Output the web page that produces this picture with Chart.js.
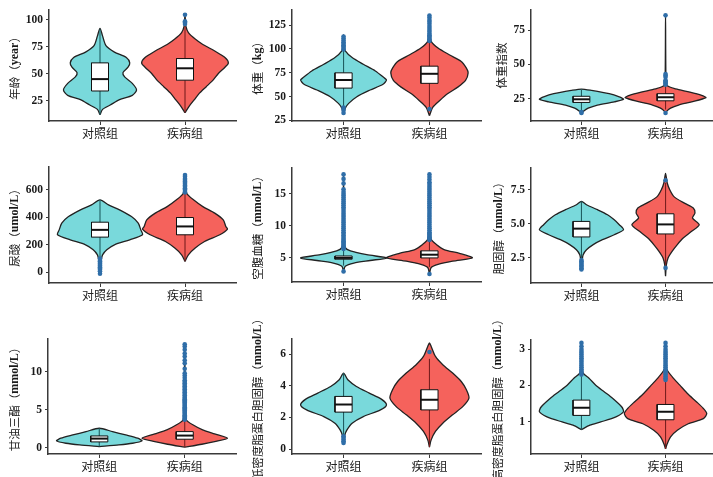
<!DOCTYPE html>
<html><head><meta charset="utf-8">
<script src="https://cdn.jsdelivr.net/npm/chart.js@4.4.1/dist/chart.umd.min.js"></script>
<style>
html,body{margin:0;padding:0;background:#fff;overflow:hidden;width:713px;height:477px;position:relative;}
canvas{position:absolute;}
</style></head><body>
<canvas id="c1"></canvas><canvas id="c2"></canvas><canvas id="c3"></canvas>
<canvas id="c4"></canvas><canvas id="c5"></canvas><canvas id="c6"></canvas>
<canvas id="c7"></canvas><canvas id="c8"></canvas><canvas id="c9"></canvas>
<script>
// ---------- DATA ----------
const categories = ['对照组', '疾病组'];
const titles = ['年龄（year）', '体重（kg）', '体重指数', '尿酸（umol/L）', '空腹血糖（mmol/L）',
  '胆固醇（mmol/L）', '甘油三酯（mmol/L）', '低密度脂蛋白胆固醇（mmol/L）', '高密度脂蛋白胆固醇（mmol/L）'];

// 1 年龄
const ageTicks = [25, 50, 75, 100];
const ageTickLabels = ['25', '50', '75', '100'];
const ageRange = [6.25, 109];
const ageCtrlY = [12, 17, 21, 26, 30, 35, 41, 47, 51, 56, 60, 65, 70, 76, 85, 92];
const ageCtrlW = [0, 0.03, 0.12, 0.23, 0.38, 0.43, 0.38, 0.29, 0.27, 0.33, 0.35, 0.31, 0.17, 0.07, 0.03, 0];
const ageCtrlBox = [12, 34, 45, 60, 91];
const ageCtrlOut = [];
const ageDisY = [14, 20, 26, 32, 38, 44, 50, 56, 60, 65, 71, 77, 82, 88, 94, 100, 105];
const ageDisW = [0, 0.05, 0.11, 0.17, 0.25, 0.33, 0.39, 0.47, 0.51, 0.47, 0.35, 0.21, 0.12, 0.04, 0.01, 0.004, 0];
const ageDisBox = [14, 44, 55, 64, 93];
const ageDisOut = [96, 97.3, 98.5, 104.5];

// 2 体重
const wtTicks = [25, 50, 75, 100, 125];
const wtTickLabels = ['25', '50', '75', '100', '125'];
const wtRange = [24.5, 141];
const wtCtrlY = [31, 38, 43, 50, 57, 63, 67.5, 70, 77, 84, 91, 98, 103, 115];
const wtCtrlW = [0, 0.02, 0.06, 0.155, 0.31, 0.46, 0.5, 0.47, 0.37, 0.23, 0.1, 0.02, 0.01, 0];
const wtCtrlBox = [40, 59, 67.5, 75, 98];
const wtCtrlOut = [99.5, 101, 102.5, 104, 105.5, 107, 109, 111, 113, 38.5, 36, 33];
const wtDisY = [30, 39, 46, 53, 60, 67, 75, 80, 87, 94, 101, 108, 115, 135];
const wtDisW = [0, 0.04, 0.12, 0.21, 0.33, 0.42, 0.45, 0.43, 0.37, 0.23, 0.1, 0.02, 0.01, 0];
const wtDisBox = [39, 64, 74, 82, 108];
const wtDisOut = [108.5, 110, 111.5, 113, 114.5, 116, 118, 120, 122, 124, 126.5, 128.5, 130.5, 133, 135, 37];

// 3 体重指数
const bmiTicks = [25, 50, 75];
const bmiTickLabels = ['25', '50', '75'];
const bmiRange = [8.6, 90];
const bmiCtrlY = [14, 15.5, 18, 20.3, 22.6, 24.5, 26.2, 28.6, 31, 32];
const bmiCtrlW = [0, 0.02, 0.08, 0.19, 0.39, 0.5, 0.45, 0.33, 0.12, 0];
const bmiCtrlBox = [16, 22.2, 24.5, 26.7, 32];
const bmiCtrlOut = [14.5, 15.2];
const bmiDisY = [14, 15.5, 18, 20.3, 22.6, 25.7, 27.4, 29.8, 32.1, 34.5, 40, 86];
const bmiDisW = [0, 0.01, 0.06, 0.155, 0.31, 0.48, 0.43, 0.29, 0.12, 0.02, 0.005, 0];
const bmiDisBox = [17, 23.4, 26, 28.6, 34.5];
const bmiDisOut = [14.5, 35.2, 36, 36.8, 37.7, 38.5, 40.8, 42, 43, 86];

// 4 尿酸
const uaTicks = [0, 200, 400, 600];
const uaTickLabels = ['0', '200', '400', '600'];
const uaRange = [-80, 767];
const uaCtrlY = [-12, 65, 102, 126, 163, 199, 235, 272, 308, 357, 405, 454, 491, 527];
const uaCtrlW = [0, 0.005, 0.02, 0.03, 0.08, 0.17, 0.35, 0.5, 0.48, 0.45, 0.37, 0.23, 0.1, 0];
const uaCtrlBox = [105, 255, 308, 364, 527];
const uaCtrlOut = [98, 88, 78, 68, 60, 52, 44, 35, 25, 17, 5, -12];
const uaDisY = [78, 126, 175, 223, 272, 313, 333, 381, 430, 478, 527, 576, 649, 709];
const uaDisW = [0, 0.04, 0.12, 0.23, 0.41, 0.5, 0.48, 0.45, 0.35, 0.21, 0.1, 0.02, 0.01, 0];
const uaDisBox = [78, 272, 333, 398, 578];
const uaDisOut = [582, 592, 602, 612, 622, 632, 642, 652, 662, 672, 682, 695, 709];

// 5 空腹血糖
const fpgTicks = [5, 10, 15];
const fpgTickLabels = ['5', '10', '15'];
const fpgRange = [1.25, 19];
const fpgCtrlY = [2.9, 3.7, 4.2, 4.6, 5.0, 5.5, 6.1, 6.6, 8, 18];
const fpgCtrlW = [0, 0.02, 0.12, 0.31, 0.5, 0.27, 0.08, 0.02, 0.008, 0];
const fpgCtrlBox = [3.8, 4.8, 5.0, 5.3, 6.3];
const fpgCtrlOut = [6.4, 6.6, 6.8, 7.0, 7.2, 7.4, 7.6, 7.8, 8.0, 8.25, 8.5, 8.75, 9.0, 9.3, 9.6, 9.9, 10.2, 10.5,
  10.8, 11.1, 11.4, 11.7, 12.0, 12.3, 12.6, 12.9, 13.2, 13.5, 13.8, 14.1, 14.4, 14.7, 15.0, 15.3, 15.7, 16.6, 17.3, 18.0, 2.9];
const fpgDisY = [2.5, 3.5, 4.0, 4.5, 5.0, 5.7, 6.3, 7.1, 7.9, 10, 18];
const fpgDisW = [0, 0.02, 0.1, 0.27, 0.5, 0.35, 0.17, 0.08, 0.02, 0.008, 0];
const fpgDisBox = [3.6, 5.0, 5.5, 6.1, 7.7];
const fpgDisOut = [7.8, 8.0, 8.2, 8.4, 8.6, 8.8, 9.0, 9.3, 9.6, 9.9, 10.2, 10.5, 10.8, 11.1, 11.4, 11.7, 12.0, 12.3,
  12.6, 12.9, 13.2, 13.5, 13.8, 14.1, 14.4, 14.7, 15.0, 15.3, 15.6, 15.9, 16.2, 16.5, 16.8, 17.2, 17.6, 18.0, 2.5];

// 6 胆固醇
const cholTicks = [2.5, 5.0, 7.5];
const cholTickLabels = ['2.5', '5.0', '7.5'];
const cholRange = [0.66, 9.1];
const cholCtrlY = [1.65, 2.38, 2.74, 3.1, 3.48, 3.84, 4.2, 4.57, 4.94, 5.3, 5.67, 6.04, 6.4, 6.65];
const cholCtrlW = [0, 0.01, 0.02, 0.06, 0.14, 0.25, 0.39, 0.5, 0.45, 0.39, 0.31, 0.19, 0.06, 0];
const cholCtrlBox = [2.45, 4.04, 4.65, 5.18, 6.65];
const cholCtrlOut = [2.35, 2.25, 2.15, 2.05, 1.95, 1.85, 1.75, 1.65];
const cholDisY = [1.16, 2.0, 2.5, 3.0, 3.48, 3.96, 4.45, 4.94, 5.43, 5.8, 6.16, 6.5, 7.0, 7.5, 8.0, 8.7];
const cholDisW = [0, 0.01, 0.03, 0.08, 0.14, 0.21, 0.31, 0.40, 0.32, 0.35, 0.33, 0.23, 0.10, 0.05, 0.02, 0];
const cholDisBox = [2.0, 4.26, 4.96, 5.74, 8.0];
const cholDisOut = [8.2, 1.77];

// 7 甘油三酯
const tgTicks = [0, 5, 10];
const tgTickLabels = ['0', '5', '10'];
const tgRange = [-0.8, 14.3];
const tgCtrlY = [0.17, 0.39, 0.61, 0.92, 1.27, 1.7, 2.14, 2.58];
const tgCtrlW = [0, 0.23, 0.39, 0.5, 0.45, 0.31, 0.155, 0];
const tgCtrlBox = [0.17, 0.79, 1.22, 1.57, 2.58];
const tgCtrlOut = [];
const tgDisY = [0.1, 0.48, 0.83, 1.27, 1.83, 2.36, 3.0, 3.67, 5, 13.5];
const tgDisW = [0, 0.2, 0.35, 0.5, 0.35, 0.21, 0.1, 0.02, 0.008, 0];
const tgDisBox = [0.1, 1.14, 1.62, 2.14, 3.65];
const tgDisOut = [3.7, 3.85, 4.0, 4.15, 4.3, 4.45, 4.6, 4.75, 4.9, 5.05, 5.2, 5.35, 5.5, 5.65, 5.8, 5.95, 6.1, 6.25,
  6.4, 6.55, 6.7, 6.9, 7.1, 7.3, 7.5, 7.7, 7.9, 8.1, 8.3, 8.5, 8.7, 8.9, 9.2, 9.5, 9.8, 10.4, 11.1, 11.5, 12.0, 12.4, 12.9, 13.3, 13.6];

// 8 低密度脂蛋白胆固醇
const ldlTicks = [0, 2, 4, 6];
const ldlTickLabels = ['0', '2', '4', '6'];
const ldlRange = [-0.3, 6.95];
const ldlCtrlY = [0.38, 0.9, 1.22, 1.64, 2.06, 2.48, 2.8, 3.16, 3.54, 3.96, 4.38, 4.8];
const ldlCtrlW = [0, 0.015, 0.04, 0.1, 0.23, 0.43, 0.5, 0.44, 0.3, 0.15, 0.05, 0];
const ldlCtrlBox = [0.9, 2.34, 2.82, 3.33, 4.8];
const ldlCtrlOut = [0.82, 0.72, 0.62, 0.5, 0.4];
const ldlDisY = [0.13, 0.59, 1.12, 1.64, 2.17, 2.7, 3.22, 3.75, 4.27, 4.8, 5.33, 5.85, 6.48, 6.7];
const ldlDisW = [0, 0.02, 0.07, 0.155, 0.27, 0.39, 0.46, 0.43, 0.37, 0.27, 0.155, 0.07, 0.02, 0];
const ldlDisBox = [0.13, 2.48, 3.12, 3.75, 5.7];
const ldlDisOut = [6.13];

// 9 高密度脂蛋白胆固醇
const hdlTicks = [1, 2, 3];
const hdlTickLabels = ['1', '2', '3'];
const hdlRange = [0.12, 3.25];
const hdlCtrlY = [0.79, 0.91, 1.0, 1.14, 1.28, 1.41, 1.65, 1.83, 2.01, 2.2, 2.34, 2.6, 3.17];
const hdlCtrlW = [0, 0.1, 0.23, 0.41, 0.5, 0.48, 0.37, 0.27, 0.17, 0.09, 0.02, 0.008, 0];
const hdlCtrlBox = [0.79, 1.18, 1.39, 1.6, 2.28];
const hdlCtrlOut = [2.3, 2.35, 2.4, 2.45, 2.5, 2.55, 2.6, 2.65, 2.7, 2.75, 2.8, 2.85, 2.9, 2.95, 3.0, 3.08, 3.17];
const hdlDisY = [0.26, 0.4, 0.59, 0.77, 0.95, 1.09, 1.23, 1.37, 1.55, 1.78, 2.01, 2.24, 2.47, 3.17];
const hdlDisW = [0, 0.02, 0.06, 0.14, 0.27, 0.45, 0.49, 0.45, 0.37, 0.26, 0.17, 0.08, 0.01, 0];
const hdlDisBox = [0.26, 1.06, 1.28, 1.48, 2.12];
const hdlDisOut = [2.15, 2.2, 2.25, 2.3, 2.35, 2.4, 2.45, 2.5, 2.55, 2.6, 2.65, 2.7, 2.75, 2.8, 2.85, 2.9, 2.95, 3.0, 3.08, 3.17];

// ---------- STYLE ----------
const CTRL_FILL = '#79D9DB', DIS_FILL = '#F5625C';
const CTRL_LINE = '#1f5e62', DIS_LINE = '#7a1f1f';
const OUT_COLOR = '#2F6EA8', EDGE = '#222222', AXIS = '#3a3a3a';
const BOX_HW = 0.1;

const panels = [
  {id:'c1', t:0, ticks:ageTicks, labels:ageTickLabels, range:ageRange,
   g:[ageCtrlY, ageCtrlW, ageCtrlBox, ageCtrlOut], d:[ageDisY, ageDisW, ageDisBox, ageDisOut],
   geo:{left:0, top:0, w:240, h:150, ax:49, ay:121, pt:7, pr:239, tx:15}},
  {id:'c2', t:1, ticks:wtTicks, labels:wtTickLabels, range:wtRange,
   g:[wtCtrlY, wtCtrlW, wtCtrlBox, wtCtrlOut], d:[wtDisY, wtDisW, wtDisBox, wtDisOut],
   geo:{left:235, top:0, w:250, h:150, ax:292, ay:121, pt:7, pr:481, tx:23}},
  {id:'c3', t:2, ticks:bmiTicks, labels:bmiTickLabels, range:bmiRange,
   g:[bmiCtrlY, bmiCtrlW, bmiCtrlBox, bmiCtrlOut], d:[bmiDisY, bmiDisW, bmiDisBox, bmiDisOut],
   geo:{left:470, top:0, w:250, h:150, ax:531, ay:121, pt:7, pr:720, tx:32}},
  {id:'c4', t:3, ticks:uaTicks, labels:uaTickLabels, range:uaRange,
   g:[uaCtrlY, uaCtrlW, uaCtrlBox, uaCtrlOut], d:[uaDisY, uaDisW, uaDisBox, uaDisOut],
   geo:{left:0, top:150, w:240, h:160, ax:49, ay:283, pt:167, pr:239, tx:15}},
  {id:'c5', t:4, ticks:fpgTicks, labels:fpgTickLabels, range:fpgRange,
   g:[fpgCtrlY, fpgCtrlW, fpgCtrlBox, fpgCtrlOut], d:[fpgDisY, fpgDisW, fpgDisBox, fpgDisOut],
   geo:{left:235, top:150, w:250, h:160, ax:292, ay:282, pt:168, pr:481, tx:23}},
  {id:'c6', t:5, ticks:cholTicks, labels:cholTickLabels, range:cholRange,
   g:[cholCtrlY, cholCtrlW, cholCtrlBox, cholCtrlOut], d:[cholDisY, cholDisW, cholDisBox, cholDisOut],
   geo:{left:470, top:150, w:250, h:160, ax:531, ay:283, pt:168, pr:720, tx:29}},
  {id:'c7', t:6, ticks:tgTicks, labels:tgTickLabels, range:tgRange,
   g:[tgCtrlY, tgCtrlW, tgCtrlBox, tgCtrlOut], d:[tgDisY, tgDisW, tgDisBox, tgDisOut],
   geo:{left:0, top:310, w:240, h:167, ax:48, ay:454, pt:339, pr:238, tx:15}},
  {id:'c8', t:7, ticks:ldlTicks, labels:ldlTickLabels, range:ldlRange,
   g:[ldlCtrlY, ldlCtrlW, ldlCtrlBox, ldlCtrlOut], d:[ldlDisY, ldlDisW, ldlDisBox, ldlDisOut],
   geo:{left:235, top:310, w:250, h:167, ax:292, ay:454, pt:339, pr:481, tx:23}},
  {id:'c9', t:8, ticks:hdlTicks, labels:hdlTickLabels, range:hdlRange,
   g:[hdlCtrlY, hdlCtrlW, hdlCtrlBox, hdlCtrlOut], d:[hdlDisY, hdlDisW, hdlDisBox, hdlDisOut],
   geo:{left:470, top:310, w:250, h:167, ax:531, ay:454, pt:340, pr:720, tx:28}}
];

function violinPoints(c, ys, ws) {
  const pts = [];
  const n = ys.length;
  for (let i = 0; i < n; i++) pts.push({x: c + ws[i], y: ys[i]});
  for (let i = n - 1; i >= 0; i--) {
    if (i === n - 1 && ws[i] === 0) continue;
    pts.push({x: c - ws[i], y: ys[i]});
  }
  return pts;
}

function groupDatasets(c, grp, fill, lineColor) {
  const [ys, ws, box, outs] = grp;
  const [mn, q1, med, q3, mx] = box;
  return [
    {data: violinPoints(c, ys, ws), showLine: true, fill: 'shape', backgroundColor: fill,
     borderColor: EDGE, borderWidth: 1.3, pointRadius: 0, tension: 0.25, order: 6},
    {data: [{x: c, y: mn}, {x: c, y: mx}], showLine: true, borderColor: lineColor, borderWidth: 1.1,
     pointRadius: 0, order: 5},
    {data: outs.map(v => ({x: c, y: v})), showLine: false, pointRadius: 2.3, pointBackgroundColor: OUT_COLOR,
     pointBorderWidth: 0, order: 4},
    {data: [{x: c - BOX_HW, y: q1}, {x: c + BOX_HW, y: q1}, {x: c + BOX_HW, y: q3}, {x: c - BOX_HW, y: q3}, {x: c - BOX_HW, y: q1}],
     showLine: true, fill: 'shape', backgroundColor: '#ffffff', borderColor: '#111', borderWidth: 1,
     pointRadius: 0, tension: 0, order: 3},
    {data: [{x: c - BOX_HW, y: med}, {x: c + BOX_HW, y: med}], showLine: true, borderColor: '#111',
     borderWidth: 2, pointRadius: 0, order: 2}
  ];
}

const titlePlugin = {
  id: 'vtitle',
  afterDraw(chart, args, opts) {
    const {ctx, chartArea} = chart;
    const text = opts.text;
    const cy = (chartArea.top + chartArea.bottom) / 2;
    ctx.save();
    ctx.translate(opts.x, cy);
    ctx.rotate(-Math.PI / 2);
    ctx.textBaseline = 'middle';
    ctx.textAlign = 'left';
    ctx.fillStyle = '#1a1a1a';
    const runs = [];
    for (const ch of text) {
      const latin = ch.charCodeAt(0) < 128;
      const last = runs[runs.length - 1];
      if (last && last.latin === latin) last.s += ch; else runs.push({latin, s: ch});
    }
    const fontFor = r => r.latin ? 'bold 12px "Liberation Serif"' : '11.5px "Noto Sans CJK SC"';
    let total = 0;
    runs.forEach(r => { ctx.font = fontFor(r); r.w = ctx.measureText(r.s).width; total += r.w; });
    let xx = -total / 2;
    runs.forEach(r => { ctx.font = fontFor(r); ctx.fillText(r.s, xx, 0); xx += r.w; });
    ctx.restore();
  }
};

panels.forEach(p => {
  const g = p.geo;
  const cv = document.getElementById(p.id);
  cv.width = g.w; cv.height = g.h;
  cv.style.left = g.left + 'px'; cv.style.top = g.top + 'px';
  cv.style.width = g.w + 'px'; cv.style.height = g.h + 'px';
  const datasets = [...groupDatasets(1, p.g, CTRL_FILL, CTRL_LINE), ...groupDatasets(2, p.d, DIS_FILL, DIS_LINE)];
  new Chart(cv, {
    type: 'scatter',
    data: {datasets},
    plugins: [titlePlugin],
    options: {
      responsive: false, animation: false, devicePixelRatio: 1,
      layout: {padding: {left: 0, top: g.pt - g.top, right: g.left + g.w - g.pr, bottom: 0}},
      plugins: {legend: {display: false}, tooltip: {enabled: false}, vtitle: {text: titles[p.t], x: g.tx}},
      scales: {
        x: {
          type: 'linear', min: 0.4, max: 2.6, bounds: 'data',
          afterBuildTicks: s => { s.ticks = categories.map((c, i) => ({value: i + 1})); },
          afterFit: s => { s.height = g.top + g.h - g.ay; },
          ticks: {autoSkip: false, maxRotation: 0, padding: 1, color: '#222',
            font: {family: '"Noto Sans CJK SC"', size: 12},
            callback: (v) => categories[Math.round(v) - 1]},
          grid: {display: true, drawOnChartArea: false, drawTicks: true, tickLength: 4, color: AXIS, lineWidth: 1},
          border: {display: true, color: AXIS, width: 1.5}
        },
        y: {
          type: 'linear', min: p.range[0], max: p.range[1], bounds: 'data',
          afterBuildTicks: s => { s.ticks = p.ticks.map(v => ({value: v})); },
          afterFit: s => { s.width = g.ax - g.left; },
          ticks: {autoSkip: false, padding: 3, color: '#1a1a1a',
            font: {family: '"Liberation Serif"', size: 11.5, weight: 'bold'},
            callback: (v) => { const i = p.ticks.indexOf(v); return i >= 0 ? p.labels[i] : ''; }},
          grid: {display: true, drawOnChartArea: false, drawTicks: true, tickLength: 3, color: AXIS, lineWidth: 1},
          border: {display: true, color: AXIS, width: 1.5}
        }
      }
    }
  });
});
</script>
</body></html>
